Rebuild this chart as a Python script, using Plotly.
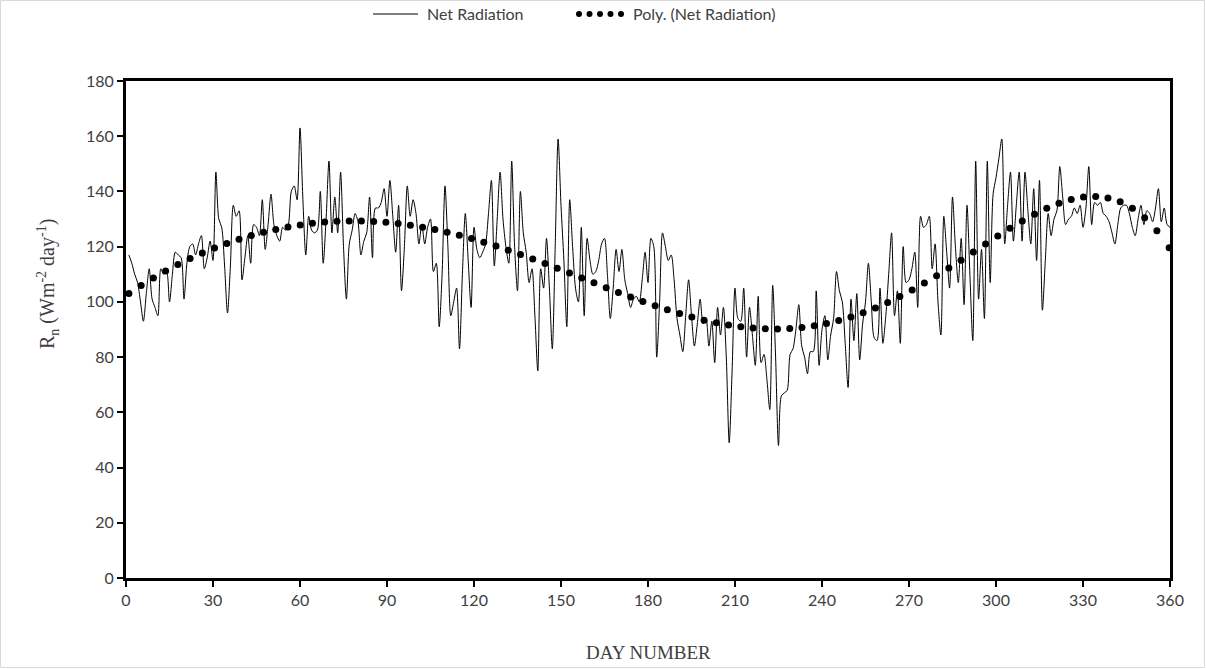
import numpy as np
import plotly.graph_objects as go

# Daily net radiation (W m-2 day-1), days 1..360
days = list(range(1, 361))
net_radiation = [
    117, 114, 110, 107, 100, 93, 103, 112, 101, 98,
    95, 112, 110, 111, 100, 110, 118, 117, 116, 101,
    114, 120, 121, 117, 121, 124, 112, 116, 122, 115,
    147, 130, 127, 113, 96, 113, 135, 131, 133, 108,
    116, 124, 114, 128, 127, 124, 137, 119, 128, 139,
    128, 124, 122, 127, 126, 128, 140, 142, 137, 163,
    137, 117, 131, 126, 125, 126, 140, 114, 130, 151,
    125, 138, 125, 147, 120, 101, 121, 126, 132, 129,
    117, 122, 125, 138, 116, 134, 134, 136, 141, 131,
    144, 131, 118, 135, 104, 120, 142, 131, 137, 132,
    121, 128, 121, 127, 130, 111, 114, 91, 110, 142,
    120, 95, 100, 105, 83, 110, 132, 115, 98, 127,
    119, 116, 118, 121, 132, 144, 113, 130, 147, 130,
    120, 114, 151, 120, 104, 140, 125, 118, 107, 112,
    95, 75, 112, 105, 123, 105, 83, 120, 159, 135,
    115, 91, 137, 120, 105, 100, 127, 95, 123, 115,
    110, 111, 115, 121, 123, 110, 94, 105, 119, 111,
    119, 108, 103, 98, 101, 102, 100, 108, 118, 107,
    123, 120, 80, 100, 125, 120, 115, 117, 108, 94,
    88, 82, 95, 108, 95, 84, 92, 101, 92, 94,
    84, 93, 78, 98, 88, 98, 80, 49, 75, 105,
    94, 93, 105, 80, 98, 88, 77, 102, 78, 81,
    72, 61, 106, 80, 48, 66, 67, 68, 81, 83,
    90, 99, 84, 80, 74, 82, 82, 104, 77, 90,
    95, 79, 88, 94, 111, 104, 100, 85, 69, 101,
    86, 103, 79, 92, 100, 114, 100, 87, 86, 105,
    85, 95, 110, 125, 95, 104, 85, 120, 107, 108,
    112, 118, 98, 131, 127, 128, 131, 112, 121, 100,
    88, 131, 118, 105, 138, 120, 107, 123, 99, 135,
    110, 86, 151, 101, 119, 94, 151, 107, 139, 145,
    152, 159, 121, 135, 147, 122, 135, 147, 122, 147,
    133, 121, 141, 115, 144, 97, 115, 132, 124, 130,
    133, 149, 138, 128, 130, 131, 134, 132, 135, 127,
    134, 149, 128, 136, 135, 136, 132, 131, 129, 125,
    121, 128, 134, 135, 135, 132, 127, 124, 130, 135,
    128, 133, 132, 129, 134, 141, 129, 134, 128, 127,
]

x_ticks = list(range(0, 361, 30))
y_ticks = list(range(0, 181, 20))

# 6th-order polynomial trendline fitted to the daily series
coef = np.polyfit(np.array(days, float), np.array(net_radiation, float), 6)
trend_x = np.arange(1, 361, 4.22)
trend_y = np.polyval(coef, trend_x)

fig = go.Figure()
fig.add_trace(go.Scatter(
    x=days, y=net_radiation, mode="lines",
    line=dict(color="black", width=1, shape="spline", smoothing=0.8),
    name="Net Radiation", showlegend=False,
))
fig.add_trace(go.Scatter(
    x=trend_x, y=trend_y, mode="markers",
    marker=dict(color="black", size=7),
    name="Poly. (Net Radiation)", showlegend=False, cliponaxis=False,
))

# plot domain in pixels: x 126..1170, y 81..578
L, R, T, B = 126, 1170, 81, 578
W, H = R - L, B - T


def px(x):
    return (x - L) / W


def py(y):
    return (B - y) / H


label_color = "#404040"
sans = "Lato, Open Sans, sans-serif"
serif = "Liberation Serif, Times New Roman, serif"
tick_font = dict(family=sans, size=16, color=label_color)

shapes = [
    # outer chart border
    dict(type="rect", xref="paper", yref="paper",
         x0=px(0.5), x1=px(1204.5), y0=py(667.5), y1=py(0.5),
         line=dict(color="#d9d9d9", width=1), layer="below"),
    # legend sample: solid line
    dict(type="line", xref="paper", yref="paper",
         x0=px(373), x1=px(418), y0=py(14), y1=py(14),
         line=dict(color="black", width=1)),
]
# legend sample: round dots
for cx in [579, 589.5, 600, 610.5, 621]:
    r = 3
    shapes.append(dict(type="circle", xref="paper", yref="paper",
                       x0=px(cx - r), x1=px(cx + r), y0=py(14 + r), y1=py(14 - r),
                       fillcolor="black", line=dict(width=0)))

annotations = [
    dict(text="Net Radiation", xref="paper", yref="paper", x=px(425), y=py(14),
         xanchor="left", yanchor="middle", showarrow=False,
         font=dict(family=sans, size=16, color=label_color)),
    dict(text="Poly. (Net Radiation)", xref="paper", yref="paper", x=px(631), y=py(14),
         xanchor="left", yanchor="middle", showarrow=False,
         font=dict(family=sans, size=16, color=label_color)),
    dict(text="DAY NUMBER", xref="paper", yref="paper", x=px(648), y=py(652),
         xanchor="center", yanchor="middle", showarrow=False,
         font=dict(family=serif, size=19, color=label_color)),
    dict(text="R<sub>n</sub> (Wm<sup>-2</sup> day<sup>-1</sup>)", xref="paper", yref="paper",
         x=px(48), y=py(284), xanchor="center", yanchor="middle", textangle=-90,
         showarrow=False,
         font=dict(family=serif, size=20, color=label_color)),
]

axis_style = dict(showgrid=False, zeroline=False, showline=True, linecolor="black",
                  linewidth=3, mirror=True, ticks="outside", ticklen=6, tickwidth=2,
                  tickcolor="black", tickfont=tick_font)

fig.update_layout(
    width=1206, height=669,
    margin=dict(l=L, r=1206 - R, t=T, b=669 - B, pad=0),
    paper_bgcolor="white", plot_bgcolor="white",
    showlegend=False,
    shapes=shapes, annotations=annotations,
    xaxis=dict(range=[0, 360], tickvals=x_ticks, ticktext=[str(v) for v in x_ticks],
               **axis_style),
    yaxis=dict(range=[0, 180], tickvals=y_ticks, ticktext=[str(v) for v in y_ticks],
               **axis_style),
)

fig.write_html("out.html")
